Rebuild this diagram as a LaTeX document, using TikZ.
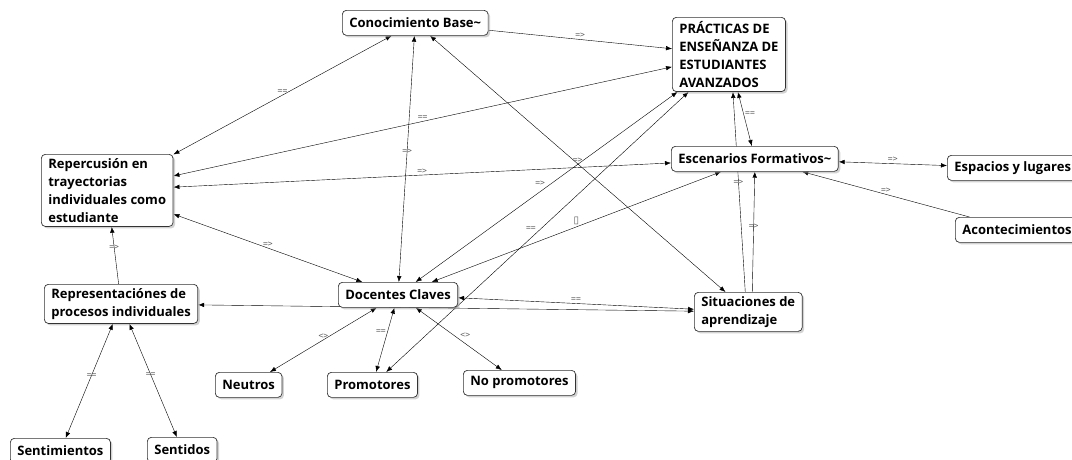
\documentclass[tikz,border=0pt]{standalone}
\usepackage{fontspec}
\usepackage{tikz}
\usetikzlibrary{arrows.meta,shadows,backgrounds}
\newfontfamily\cmapfont{Open Sans}
\newfontfamily\relfont{DejaVu Sans Mono}
\newfontfamily\boxfont{DejaVu Sans}
\definecolor{relgray}{RGB}{95,95,95}

\tikzset{
  concept/.style={draw=black!80, line width=0.7pt, rounded corners=4pt, fill=white,
    drop shadow={shadow xshift=2pt, shadow yshift=-2pt, fill=black!35},
    font=\cmapfont\bfseries\fontsize{13}{18}\selectfont, align=left,
    inner xsep=7pt, inner ysep=4pt, minimum height=25pt, anchor=north west},
  rel/.style={font=\relfont\fontsize{8}{9}\selectfont, text=relgray, inner sep=1.5pt},
  biarrow/.style={{Latex[length=6pt,width=4.5pt]}-{Latex[length=6pt,width=4.5pt]}},
  onearrow/.style={-{Latex[length=6pt,width=4.5pt]}}
}

\begin{document}
\begin{tikzpicture}[x=1pt, y=-1pt, line width=0.65pt]
    \useasboundingbox (0,0) rectangle (1072,459);

    \node[concept] (CB) at (342,10) {Conocimiento Base\textasciitilde};
    \node[concept] (PE) at (672,17) {PRÁCTICAS DE\\ENSEÑANZA DE\\ESTUDIANTES\\AVANZADOS};
    \node[concept] (RT) at (41,154) {Repercusión en\\trayectorias\\individuales como\\estudiante};
    \node[concept] (EF) at (671,146) {Escenarios Formativos\textasciitilde};
    \node[concept] (EL) at (947,155) {Espacios y lugares};
    \node[concept] (AC) at (955,217) {Acontecimientos};
    \node[concept] (RP) at (44,284) {Representaciónes de\\procesos individuales};
    \node[concept] (DC) at (338,282) {Docentes Claves};
    \node[concept] (SA) at (694,292) {Situaciones de\\aprendizaje};
    \node[concept] (NE) at (215,372) {Neutros};
    \node[concept] (PR) at (327,372) {Promotores};
    \node[concept] (NP) at (463,370) {No promotores};
    \node[concept] (SE) at (10,438) {Sentimientos};
    \node[concept] (SN) at (147,437) {Sentidos};

    \begin{pgfonlayer}{background}
    \path (RT) edge [biarrow] node[rel, above] {==} (CB)
          (RT) edge [biarrow] node[rel, above] {==} (PE)
          (RT) edge [biarrow] node[rel, above] {=>} (EF)
          (RT) edge [biarrow] node[rel, above] {=>} (DC)
          (CB) edge [biarrow] node[rel, pos=0.47] {=>} (DC)
          (CB) edge [biarrow] node[rel, above] {=>} (SA)
          (CB) edge [onearrow] node[rel, above] {=>} (PE)
          ([xshift=9pt]PE.south) edge [biarrow] node[rel, right, pos=0.4] {==} ([xshift=-3pt]EF.north)
          ([xshift=-3pt]SA.north) edge [onearrow] node[rel, pos=0.55] {=>} ([xshift=4pt]PE.south)
          ([xshift=4pt]SA.north) edge [onearrow] node[rel, pos=0.55] {=>} (EF.south)
          (EL) edge [biarrow] node[rel, above] {=>} (EF)
          (AC) edge [onearrow] node[rel, above] {=>} (EF)
          (DC) edge [biarrow] node[rel, above] {\boxfont\fontsize{10}{10}\selectfont ▯} (EF)
          (DC) edge [biarrow] node[rel, above left] {=>} (PE)
          (PR) edge [biarrow] node[rel, above left] {==} (PE)
          (DC) edge [biarrow] node[rel, above] {==} (SA)
          (RP) edge [biarrow] (SA)
          (RP) edge [onearrow] node[rel, pos=0.65] {=>} (RT)
          (RP) edge [biarrow] node[rel, pos=0.45] {==} (SE)
          (RP) edge [biarrow] node[rel, pos=0.45] {==} (SN)
          (DC) edge [biarrow] node[rel, above] {<>} (NE)
          (DC) edge [biarrow] node[rel, pos=0.38, left] {==} (PR)
          (DC) edge [biarrow] node[rel, above right] {<>} (NP);
    \end{pgfonlayer}
\end{tikzpicture}
\end{document}
